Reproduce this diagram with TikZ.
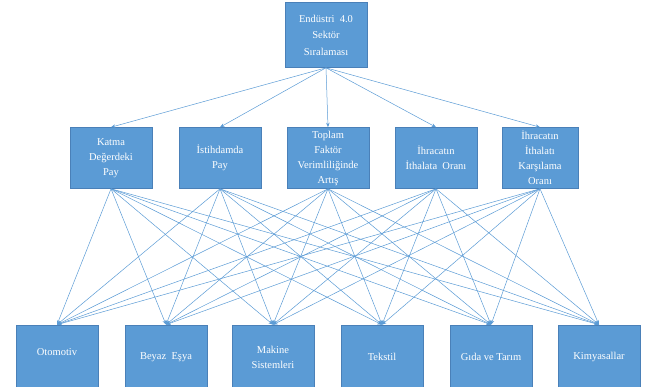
\documentclass[tikz,border=0pt]{standalone}
\usepackage{fontspec}
\setmainfont{Liberation Serif}
\usetikzlibrary{arrows.meta}
\definecolor{boxfill}{HTML}{5B9BD5}
\definecolor{boxline}{HTML}{4A80B8}
\definecolor{conn}{HTML}{5B9BD5}
\begin{document}
\begin{tikzpicture}[x=1pt,y=-1pt,
  box/.style={draw=boxline, line width=0.6pt, fill=boxfill, text=white, align=center,
    font=\fontsize{10.5}{15}\selectfont, inner sep=1pt, minimum width=82pt},
  topbox/.style={box, minimum height=65pt, font=\fontsize{10.5}{16.5}\selectfont},
  midbox/.style={box, minimum height=61pt},
  botbox/.style={box, minimum height=64pt},
  conn/.style={draw=conn, line width=0.5pt, -{Stealth[length=4.5pt,width=3.5pt]}}]
\useasboundingbox (0,0) rectangle (645,387);
\node[topbox] (t) at (326,35) {Endüstri\ \ 4.0\\Sektör\\Sıralaması};
\node[midbox] (m1) at (111,158) {Katma\\Değerdeki\\Pay};
\node[midbox] (m2) at (220,158) {İstihdamda\\Pay};
\node[midbox] (m3) at (328,158) {Toplam\\Faktör\\Verimliliğinde\\Artış};
\node[midbox] (m4) at (436,158) {İhracatın\\İthalata\ \ Oranı};
\node[midbox, minimum width=76pt] (m5) at (540,158) {İhracatın\\İthalatı\\Karşılama\\Oranı};
\node[botbox] (b1) at (57,357) {\raisebox{10pt}{Otomotiv}};
\node[botbox] (b2) at (166,357) {Beyaz\ \ Eşya};
\node[botbox] (b3) at (273,357) {Makine\\Sistemleri};
\node[botbox] (b4) at (382,357) {Tekstil};
\node[botbox] (b5) at (491,357) {Gıda\ ve\ Tarım};
\node[botbox] (b6) at (599,357) {Kimyasallar};
\foreach \m in {m1,m2,m3,m4,m5} {
  \draw[conn] (t.south) -- (\m.north);
  \foreach \b in {b1,b2,b3,b4,b5,b6} {
    \draw[conn] (\m.south) -- (\b.north);
  }
}
\end{tikzpicture}
\end{document}
